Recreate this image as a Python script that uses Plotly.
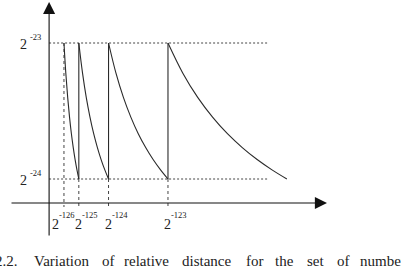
import plotly.graph_objects as go

# ---- data ----
exponents = [-126, -125, -124, -123]          # binade start: 2^e
seg_frac = [0, 0.125, 0.25, 0.375, 0.5, 0.625, 0.75, 0.875, 1.0]   # position inside a binade
rel_dist = [2.0, 1.778, 1.6, 1.455, 1.333, 1.231, 1.143, 1.067, 1.0]  # relative distance, units of 2^-24
y_levels = [2, 1]                               # 2^-23, 2^-24 (units of 2^-24)
y_exps = ["-23", "-24"]
caption_words = ["2.2.", "Variation", "of", "relative", "distance", "for", "the", "set", "of", "numbers"]

# ---- pixel <-> data helpers (layout) ----
W, H = 401, 268
PX0, PXK = 49.1, 14.86      # px of x=0, px per unit (2^-126)
PY2, PYU = 43.0, 136.0      # px of y=2, px per unit

def xd(px):
    return (px - PX0) / PXK

def yd(py):
    return 2 - (py - PY2) / PYU

def kpos(e):
    return 2.0 ** (e + 126)

LINE = "#2a2a2a"
DASH = "#444444"
TXT = "#222222"
FONT = "Liberation Serif, Times New Roman, DejaVu Serif, serif"

fig = go.Figure()

# horizontal dashed reference lines
hx, hy = [], []
for lv in y_levels:
    hx += [0, xd(268), None]
    hy += [lv, lv, None]
fig.add_trace(go.Scatter(x=hx, y=hy, mode="lines",
                         line=dict(color=DASH, width=1, dash="2px,2px"),
                         hoverinfo="skip", showlegend=False))

# vertical dashed drop lines
vx, vy = [], []
for i, e in enumerate(exponents):
    k = kpos(e)
    top = y_levels[0] if i == 0 else y_levels[1]
    vx += [k, k, None]
    vy += [top, yd(207), None]
fig.add_trace(go.Scatter(x=vx, y=vy, mode="lines",
                         line=dict(color=DASH, width=1, dash="3px,3px"),
                         hoverinfo="skip", showlegend=False))

# curves in each binade
cx, cy = [], []
for e in exponents:
    k = kpos(e)
    cx += [k * (1 + f) for f in seg_frac] + [None]
    cy += rel_dist + [None]
fig.add_trace(go.Scatter(x=cx, y=cy, mode="lines", line_shape="spline",
                         line=dict(color=LINE, width=1.1),
                         hoverinfo="skip", showlegend=False))

# solid jumps
jx, jy = [], []
for e in exponents[1:]:
    k = kpos(e)
    jx += [k, k, None]
    jy += [y_levels[1], y_levels[0], None]
fig.add_trace(go.Scatter(x=jx, y=jy, mode="lines",
                         line=dict(color=LINE, width=1.1),
                         hoverinfo="skip", showlegend=False))

ann = []
# axes with arrowheads
ann.append(dict(x=0, y=yd(2), ax=0, ay=yd(237), xref="x", yref="y", axref="x", ayref="y",
                text="", showarrow=True, arrowhead=2, arrowsize=2.2, arrowwidth=1.1,
                arrowcolor="#111111", standoff=0, startstandoff=0))
ann.append(dict(x=xd(327), y=yd(203), ax=xd(10), ay=yd(203), xref="x", yref="y", axref="x", ayref="y",
                text="", showarrow=True, arrowhead=2, arrowsize=2.2, arrowwidth=1.1,
                arrowcolor="#111111", standoff=0, startstandoff=0))

# x tick labels 2^e
for e in exponents:
    k = kpos(e)
    sh = -8 if e == exponents[0] else 0
    ann.append(dict(x=k, y=yd(224), xref="x", yref="y", text="2", showarrow=False,
                    xanchor="center", yanchor="middle", xshift=sh,
                    font=dict(family=FONT, size=14, color=TXT)))
    ann.append(dict(x=k, y=yd(215), xref="x", yref="y", text=str(e), showarrow=False,
                    xanchor="left", yanchor="middle", xshift=sh + 1.5,
                    font=dict(family=FONT, size=8.5, color=TXT)))

# y tick labels
for lv, ex in zip(y_levels, y_exps):
    py = PY2 + (2 - lv) * PYU
    ann.append(dict(x=xd(23.5), y=yd(py + 1), xref="x", yref="y", text="2", showarrow=False,
                    xanchor="center", yanchor="middle",
                    font=dict(family=FONT, size=14, color=TXT)))
    ann.append(dict(x=xd(28), y=yd(py - 6.5), xref="x", yref="y", text=ex, showarrow=False,
                    xanchor="left", yanchor="middle",
                    font=dict(family=FONT, size=8.5, color=TXT)))

# caption (justified words)
cap_left = [None, 32, 100, 122, 180, 244, 273, 305, 335, 358]
for w, lx in zip(caption_words, cap_left):
    if lx is None:
        ann.append(dict(x=20 / W, y=1 - 260.5 / H, xref="paper", yref="paper", text=w,
                        showarrow=False, xanchor="right", yanchor="middle",
                        font=dict(family=FONT, size=15, color=TXT)))
    else:
        ann.append(dict(x=lx / W, y=1 - 260.5 / H, xref="paper", yref="paper", text=w,
                        showarrow=False, xanchor="left", yanchor="middle",
                        font=dict(family=FONT, size=15, color=TXT)))

fig.update_layout(
    width=W, height=H, margin=dict(l=0, r=0, t=0, b=0),
    paper_bgcolor="white", plot_bgcolor="white",
    xaxis=dict(range=[xd(0), xd(W)], visible=False, showgrid=False, zeroline=False, fixedrange=True),
    yaxis=dict(range=[yd(H), yd(0)], visible=False, showgrid=False, zeroline=False, fixedrange=True),
    annotations=ann, showlegend=False,
)

fig.write_html("out.html")
